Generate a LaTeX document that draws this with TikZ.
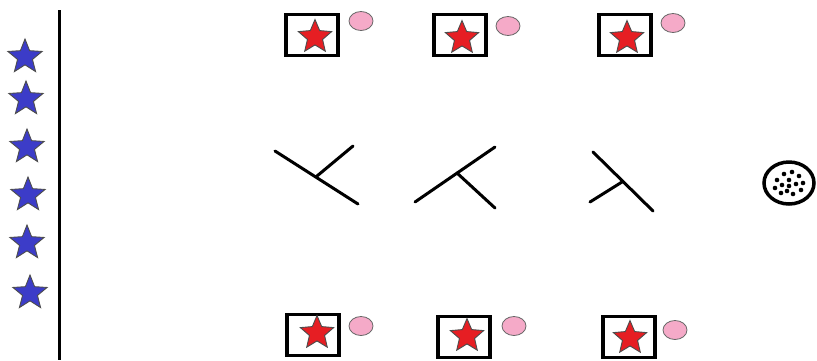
\documentclass[tikz,border=0pt]{standalone}
\usepackage{xcolor}
\usetikzlibrary{shapes.geometric}

\definecolor{starblue}{RGB}{60,60,200}
\definecolor{starred}{RGB}{230,30,35}
\definecolor{ballpink}{RGB}{245,170,200}

\begin{document}
\begin{tikzpicture}[x=1pt,y=-1pt]
\tikzstyle{player} = [star, star points=5, star point ratio=2.3, draw=black!70, line width=0.9pt, fill=starblue, minimum size=36pt, inner sep=0pt]
\tikzstyle{target} = [star, star points=5, star point ratio=2.2, draw=black!70, line width=0.9pt, fill=starred, minimum size=35pt, inner sep=0pt]
\tikzstyle{goalbox} = [rectangle, draw, line width=3.5pt, minimum width=52pt, minimum height=41pt, inner sep=0pt]
\tikzstyle{cone} = [ellipse, draw=black!60, line width=0.8pt, fill=ballpink, minimum width=24pt, minimum height=19pt, inner sep=0pt]
\tikzstyle{stick} = [line width=3pt, line cap=round]

\useasboundingbox (0,0) rectangle (817,360);

% players waiting on the line
\node (p1) [player] at (25,57) {};
\node (p2) [player] at (26,99) {};
\node (p3) [player] at (27,147) {};
\node (p4) [player] at (28,195) {};
\node (p5) [player] at (27,243) {};
\node (p6) [player] at (30,293) {};
\coordinate (lineTop) at (59,10);
\coordinate (lineBot) at (59,360);
\draw [line width=3pt] (lineTop) -- (lineBot);

% top row
\node (boxA) [goalbox] at (312,35) {};
\node (boxB) [goalbox] at (460,35) {};
\node (boxC) [goalbox] at (625,35) {};
\node (tA) [target] at (315,37) {};
\node (tB) [target] at (462,38) {};
\node (tC) [target] at (627,38) {};
\node (cA) [cone] at (361,21) {};
\node (cB) [cone] at (508,26) {};
\node (cC) [cone] at (673,23) {};

% bottom row
\node (boxD) [goalbox] at (313,335) {};
\node (boxE) [goalbox] at (464,337) {};
\node (boxF) [goalbox] at (629,337) {};
\node (tD) [target] at (317,333) {};
\node (tE) [target] at (467,336) {};
\node (tF) [target] at (630,338) {};
\node (cD) [cone] at (361,326) {};
\node (cE) [cone] at (514,326) {};
\node (cF) [cone] at (675,330) {};

% sticks in the middle
\coordinate (s1a) at (275,151);
\coordinate (s1b) at (358,204);
\coordinate (s1j) at (317,176);
\coordinate (s1e) at (353,146);
\draw [stick] (s1a) -- (s1b);
\draw [stick] (s1j) -- (s1e);

\coordinate (s2a) at (415,202);
\coordinate (s2b) at (495,147);
\coordinate (s2j) at (457,173);
\coordinate (s2e) at (495,208);
\draw [stick] (s2a) -- (s2b);
\draw [stick] (s2j) -- (s2e);

\coordinate (s3a) at (593,152);
\coordinate (s3b) at (653,211);
\coordinate (s3j) at (622,182);
\coordinate (s3e) at (590,202);
\draw [stick] (s3a) -- (s3b);
\draw [stick] (s3j) -- (s3e);

% ball
\node (ball) [ellipse, draw, line width=3.5pt, minimum width=50pt, minimum height=42pt] at (789,183) {};
\foreach \dx/\dy in {-12/-3,-5/-9,3/-11,10/-7,14/0,-14/5,-7/2,0/-3,7/1,12/7,-8/10,-2/8,4/11,0/3}
  \fill (ball.center) ++(\dx,\dy) circle (2.3pt);

\end{tikzpicture}
\end{document}
